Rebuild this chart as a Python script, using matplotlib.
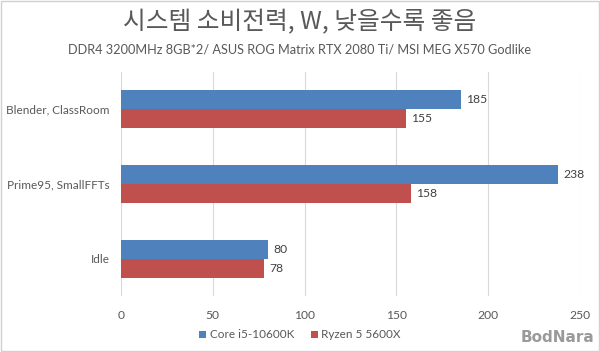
import matplotlib
matplotlib.use("Agg")
import matplotlib.pyplot as plt
import numpy as np

categories = ["Blender, ClassRoom", "Prime95, SmallFFTs", "Idle"]
series_names = ["Core i5-10600K", "Ryzen 5 5600X"]
intel_vals = [185, 238, 80]
amd_vals = [155, 158, 78]
xticks = [0, 50, 100, 150, 200, 250]

title = "시스템 소비전력, W, 낮을수록 좋음"
subtitle = "DDR4 3200MHz 8GB*2/ ASUS ROG Matrix RTX 2080 Ti/ MSI MEG X570 Godlike"

plt.rcParams['font.family'] = ['Lato', 'Noto Sans CJK KR', 'DejaVu Sans']
TXT = "#595959"
BLUE = "#4F81BD"
RED = "#C0504D"
FS = 8.7

fig = plt.figure(figsize=(6.0, 3.52), dpi=100)
ax = fig.add_axes([121/600, 1-296/352, (580-121)/600, (296-71.5)/352])

n = len(categories)
y = np.arange(n)
h = 0.253
ax.barh(y - h/2, intel_vals, height=h, color=BLUE, label=series_names[0], zorder=3)
ax.barh(y + h/2, amd_vals, height=h, color=RED, label=series_names[1], zorder=3)

for i in range(n):
    ax.text(intel_vals[i] + 2.8, y[i] - h/2, str(intel_vals[i]), va='center', ha='left',
            fontsize=FS, color="#404040")
    ax.text(amd_vals[i] + 2.8, y[i] + h/2, str(amd_vals[i]), va='center', ha='left',
            fontsize=FS, color="#404040")

ax.set_xlim(0, 250)
ax.set_ylim(n - 0.5, -0.5)
ax.set_xticks(xticks)
ax.set_xticklabels([str(t) for t in xticks], fontsize=FS, color=TXT)
ax.set_yticks(y)
ax.set_yticklabels(categories, fontsize=8.5, color=TXT)
ax.tick_params(axis='x', length=0, pad=10)
ax.tick_params(axis='y', length=0, pad=8)
ax.grid(axis='x', color="#D9D9D9", linewidth=0.8, zorder=0)
for s in ax.spines.values():
    s.set_visible(False)

fig.text(0.5, 1-22/352, title, ha='center', va='center', fontsize=17.8, color=TXT,
         family=['Noto Sans CJK KR', 'DejaVu Sans'])
fig.text(0.5, 1-50/352, subtitle, ha='center', va='center', fontsize=9.2, color=TXT)

handles, labels = ax.get_legend_handles_labels()
leg = fig.legend(handles, labels, loc='center', bbox_to_anchor=(0.5, 1-335/352), ncol=2,
                 frameon=False, fontsize=8.5, handlelength=0.6, handleheight=0.6,
                 handletextpad=0.3, columnspacing=1.4, labelcolor=TXT)

fig.text(0.99, 1-338/352, "BodNara", ha='right', va='center', fontsize=11,
         fontweight='bold', color="#9A9A9A", family=['DejaVu Sans'])

border = plt.Rectangle((0.002, 0.003), 0.996, 0.994, transform=fig.transFigure,
                       fill=False, edgecolor="#D0D0D0", linewidth=1)
fig.add_artist(border)

fig.savefig("out.png", dpi=100)
